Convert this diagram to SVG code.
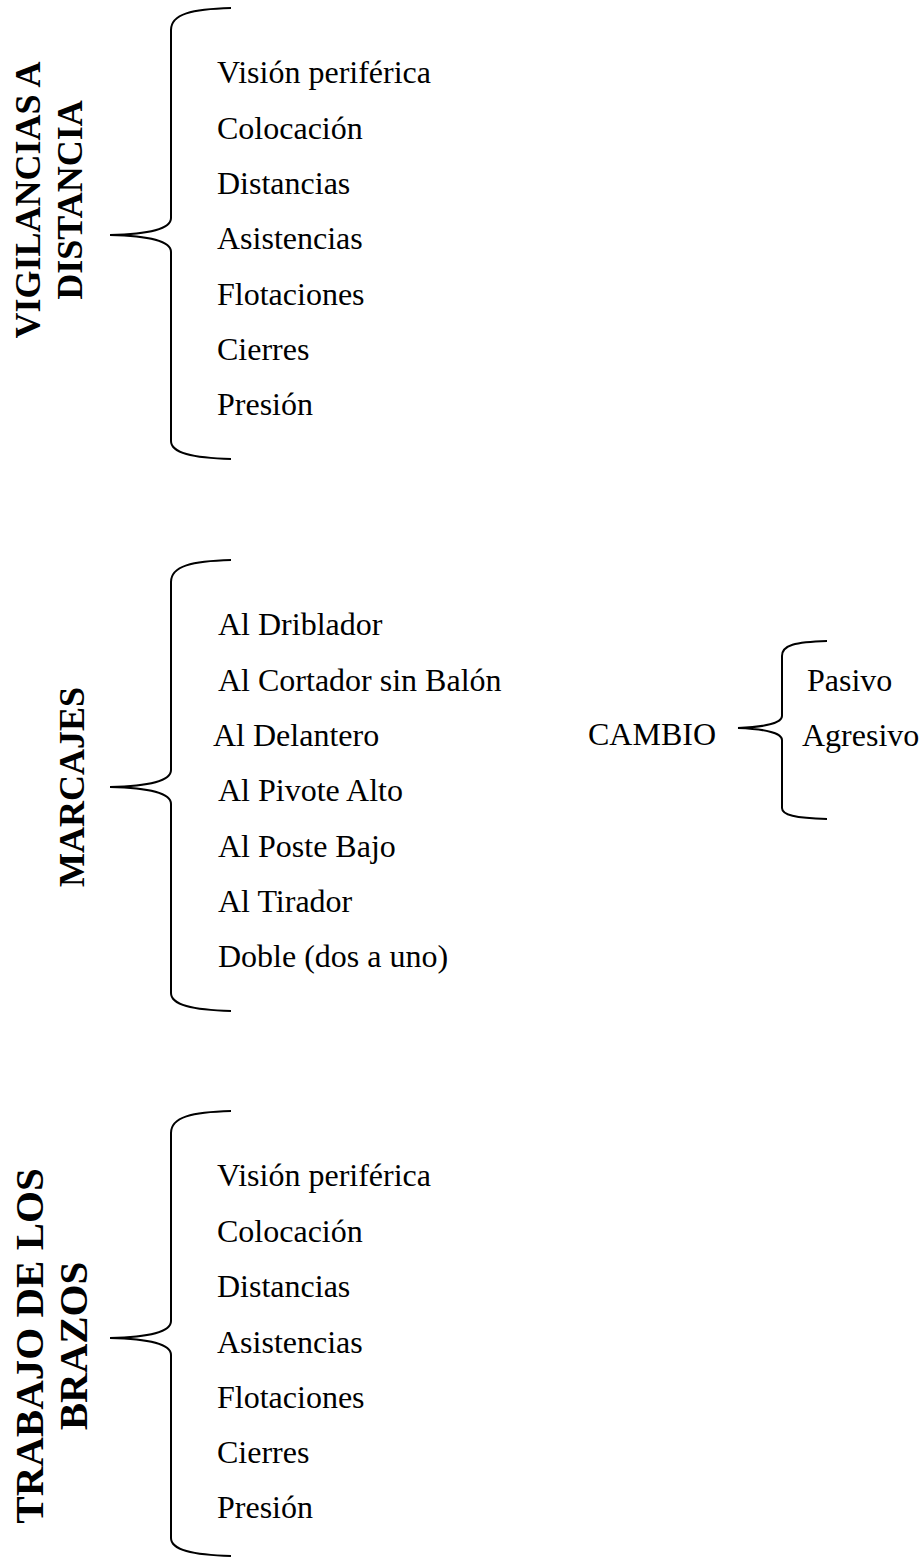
<svg xmlns="http://www.w3.org/2000/svg" width="924" height="1561" viewBox="0 0 924 1561">
<style>
.item{font-family:"Liberation Serif","Times New Roman",serif;font-size:32px;fill:#000}
.title{font-family:"Liberation Serif","Times New Roman",serif;font-size:36px;font-weight:bold;fill:#000;text-anchor:middle}
.big{font-size:41px}
.brace{fill:none;stroke:#000;stroke-width:2}
</style>
<rect width="924" height="1561" fill="#fff"/>
<g id="connectors">
<path class="brace" d="M231,8 C192,9 171,14 171,30 L171,218 C171,229 150,234 110,235 C150,236 171,241 171,252 L171,441 C171,453 192,458 231,459"/>
<path class="brace" d="M231,560 C192,561 171,566 171,582 L171,770 C171,781 150,786 110,787 C150,788 171,793 171,804 L171,993 C171,1005 192,1010 231,1011"/>
<path class="brace" d="M231,1111 C192,1112 171,1117 171,1133 L171,1321 C171,1332 150,1337 110,1338 C150,1339 171,1344 171,1355 L171,1538 C171,1550 192,1555 231,1556"/>
<path class="brace" d="M827,641 C795,642 782,645 782,656 L782,716 C782,723 765,727 738,728 C765,729 782,733 782,740 L782,808 C782,815 795,818 827,819"/>
</g>
<g id="vigilancias">
<text class="title" transform="translate(40,200) rotate(-90)">VIGILANCIAS A</text>
<text class="title" transform="translate(82,200) rotate(-90)">DISTANCIA</text>
<text class="item" x="217" y="83">Visión periférica</text>
<text class="item" x="217" y="138.5">Colocación</text>
<text class="item" x="217" y="194">Distancias</text>
<text class="item" x="217" y="249">Asistencias</text>
<text class="item" x="217" y="304.5">Flotaciones</text>
<text class="item" x="217" y="360">Cierres</text>
<text class="item" x="217" y="415">Presión</text>
</g>
<g id="marcajes">
<text class="title" transform="translate(84,787) rotate(-90)">MARCAJES</text>
<text class="item" x="218" y="635">Al Driblador</text>
<text class="item" x="218" y="691">Al Cortador sin Balón</text>
<text class="item" x="213" y="746">Al Delantero</text>
<text class="item" x="218" y="801">Al Pivote Alto</text>
<text class="item" x="218" y="857">Al Poste Bajo</text>
<text class="item" x="218" y="912">Al Tirador</text>
<text class="item" x="218" y="967">Doble (dos a uno)</text>
</g>
<g id="cambio">
<text class="item" x="588" y="745">CAMBIO</text>
<text class="item" x="807" y="691">Pasivo</text>
<text class="item" x="802" y="746">Agresivo</text>
</g>
<g id="brazos">
<text class="title big" transform="translate(43,1346) rotate(-90)">TRABAJO DE LOS</text>
<text class="title big" transform="translate(87,1346) rotate(-90)">BRAZOS</text>
<text class="item" x="217" y="1186">Visión periférica</text>
<text class="item" x="217" y="1242">Colocación</text>
<text class="item" x="217" y="1297">Distancias</text>
<text class="item" x="217" y="1353">Asistencias</text>
<text class="item" x="217" y="1408">Flotaciones</text>
<text class="item" x="217" y="1463">Cierres</text>
<text class="item" x="217" y="1518">Presión</text>
</g>
</svg>
